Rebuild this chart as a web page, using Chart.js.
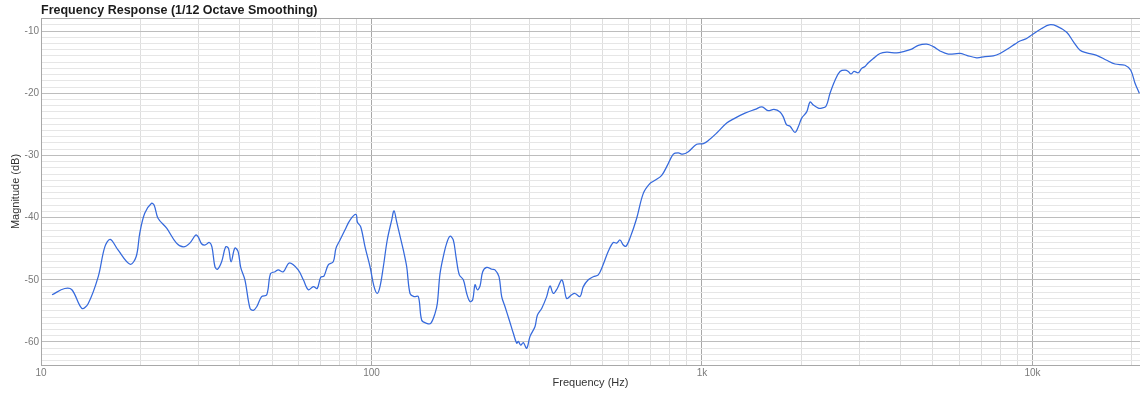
<!DOCTYPE html>
<html>
<head>
<meta charset="utf-8">
<script src="https://cdn.jsdelivr.net/npm/chart.js@4.4.1/dist/chart.umd.min.js"></script>
<style>
  html, body { margin: 0; padding: 0; background: #fff; overflow: hidden; }
  #wrap { width: 1140px; height: 396px; position: relative; }
</style>
</head>
<body>
<div id="wrap"><canvas id="c"></canvas></div>
<script>
// Measured response, 1/12 octave smoothing: frequency (Hz) and level (dB)
const frequencies = [
  10.8, 11.8, 12.4, 13.3, 13.9, 14.9, 15.6, 16.2, 17.1, 18.6,
  19.4, 19.9, 20.6, 21.6, 22.0, 22.6, 24.0, 25.7, 27.0, 28.2,
  29.4, 29.9, 30.6, 31.4, 32.3, 32.9, 33.6, 34.2, 35.2, 36.2,
  36.9, 37.6, 38.6, 39.5, 40.2, 41.4, 42.9, 43.9, 45.0, 46.5,
  48.2, 49.5, 51.1, 52.2, 54.1, 56.4, 60.0, 62.2, 64.4, 66.7,
  68.5, 70.2, 71.8, 74.0, 76.6, 78.1, 80.3, 83.1, 86.1, 89.8,
  90.6, 92.8, 95.6, 99.0, 101.8, 104.1, 106.1, 108.6, 111.6, 115.1,
  117.0, 119.2, 121.4, 124.8, 127.8, 130.8, 134.5, 138.6, 141.9, 146.9,
  151.1, 155.7, 158.2, 161.2, 165.8, 168.9, 172.8, 176.8, 180.2, 184.4,
  189.6, 194.1, 198.6, 202.4, 205.7, 209.0, 213.0, 217.0, 223.2, 231.1,
  236.4, 243.1, 247.7, 253.4, 261.2, 268.6, 275.0, 278.2, 282.8, 288.0,
  294.9, 301.8, 312.5, 317.6, 327.3, 338.9, 346.8, 354.9, 364.9, 376.3,
  382.4, 389.6, 403.4, 412.8, 427.5, 437.4, 452.9, 469.0, 485.6, 502.8,
  520.6, 539.0, 552.0, 564.8, 577.9, 588.9, 605.5, 634.5, 664.4, 696.2,
  720.9, 755.3, 782.1, 819.0, 847.9, 874.2, 909.1, 963.8, 1009, 1045,
  1108, 1188, 1259, 1349, 1447, 1519, 1584, 1651, 1722, 1762,
  1804, 1847, 1911, 1956, 2003, 2074, 2123, 2172, 2249, 2303,
  2373, 2440, 2527, 2616, 2709, 2772, 2824, 2884, 2972, 3043,
  3114, 3187, 3300, 3457, 3622, 3882, 4065, 4310, 4513, 4786,
  5011, 5250, 5561, 6035, 6322, 6778, 7184, 7610, 7975, 8450,
  8851, 9166, 9603, 9965, 10660, 11240, 11840, 12690, 13290, 13930,
  14590, 15640, 16770, 17770, 19050, 19830, 20430, 21050
];
const magnitudes = [
  -52.4, -51.4, -51.6, -54.6, -53.8, -49.5, -44.7, -43.5, -45.2, -47.5,
  -46.3, -42.5, -39.3, -37.7, -38.0, -40.1, -41.7, -44.1, -44.7, -44.1,
  -42.8, -43.1, -44.2, -44.4, -44.0, -44.7, -47.9, -48.3, -47.1, -44.7,
  -44.9, -47.1, -44.9, -45.5, -48.0, -50.0, -54.6, -54.9, -54.3, -52.7,
  -52.4, -49.0, -48.7, -48.4, -48.7, -47.3, -48.4, -50.0, -51.6, -51.1,
  -51.4, -49.6, -49.4, -47.6, -47.1, -44.9, -43.6, -42.0, -40.4, -39.5,
  -40.7, -41.5, -44.7, -47.9, -51.1, -52.2, -51.1, -47.9, -43.6, -40.4,
  -38.9, -40.7, -42.5, -45.2, -47.9, -52.2, -52.7, -52.7, -56.5, -57.0,
  -57.0, -55.4, -53.8, -49.0, -45.7, -44.1, -43.0, -43.6, -46.3, -49.2,
  -50.0, -52.2, -53.5, -53.2, -50.8, -51.6, -51.0, -48.7, -48.0, -48.3,
  -48.4, -49.5, -52.7, -54.3, -56.5, -58.6, -60.2, -59.9, -60.5, -60.1,
  -61.0, -59.1, -57.5, -55.7, -54.6, -52.7, -51.0, -52.2, -51.4, -50.0,
  -51.1, -53.0, -52.4, -52.2, -52.7, -51.1, -50.0, -49.5, -49.2, -47.5,
  -45.4, -44.0, -44.1, -43.6, -44.4, -44.6, -43.3, -40.1, -36.1, -34.5,
  -34.0, -33.2, -31.8, -29.8, -29.6, -29.8, -29.4, -28.2, -28.1, -27.6,
  -26.4, -24.8, -24.0, -23.2, -22.6, -22.2, -22.8, -22.6, -23.0, -23.8,
  -25.1, -25.3, -26.3, -25.4, -24.0, -23.0, -21.4, -21.9, -22.4, -22.4,
  -22.1, -20.0, -17.9, -16.5, -16.3, -16.5, -16.9, -16.5, -16.7, -16.0,
  -15.7, -15.1, -14.4, -13.6, -13.4, -13.5, -13.3, -12.9, -12.3, -12.1,
  -12.5, -13.2, -13.7, -13.6, -13.9, -14.3, -14.1, -14.0, -13.6, -12.8,
  -12.1, -11.6, -11.2, -10.6, -9.6, -9.0, -9.2, -10.2, -11.7, -13.1,
  -13.5, -13.9, -14.7, -15.3, -15.5, -16.3, -18.4, -20.0
];

// Axis settings
const freqRange = [10, 21150];
const dbRange = [-63.7, -7.9];
const decadeTicks = [10, 100, 1000, 10000];
const decadeLabels = ['10', '100', '1k', '10k'];
const gridMultipliers = [1, 2, 3, 4, 5, 6, 7, 8, 9];
const dbLabelStep = 10;

const FONT = "'Liberation Sans', Arial, Helvetica, sans-serif";

// Grid positions: every integer multiple inside each decade, every dB step
const freqGrid = [];
decadeTicks.forEach(d => gridMultipliers.forEach(m => {
  const v = d * m;
  if (v >= freqRange[0] && v <= freqRange[1]) freqGrid.push(v);
}));
const dbGrid = [];
for (let v = Math.ceil(dbRange[0]); v <= Math.floor(dbRange[1]); v++) dbGrid.push(v);
dbGrid.push(dbRange[1]);

const points = frequencies.map((f, i) => ({ x: f, y: magnitudes[i] }));

new Chart(document.getElementById('c'), {
  type: 'line',
  data: {
    datasets: [{
      data: points,
      borderColor: '#3569dc',
      borderWidth: 1.25,
      pointRadius: 0,
      tension: 0.35,
      fill: false
    }]
  },
  options: {
    responsive: true,
    maintainAspectRatio: false,
    animation: false,
    layout: { padding: 0 },
    plugins: {
      legend: { display: false },
      tooltip: { enabled: false },
      title: {
        display: true,
        text: 'Frequency Response (1/12 Octave Smoothing)',
        align: 'start',
        fullSize: false,
        color: '#1c1c1c',
        font: { family: FONT, size: 12.5, weight: 'bold', lineHeight: 14 / 12.5 },
        padding: { top: 4, bottom: 0 }
      }
    },
    scales: {
      x: {
        type: 'logarithmic',
        min: freqRange[0],
        max: freqRange[1],
        afterBuildTicks: s => { s.ticks = freqGrid.map(v => ({ value: v })); },
        afterFit: s => { s.height = 31; },
        ticks: {
          autoSkip: false,
          maxRotation: 0,
          padding: 2,
          color: '#7a7a7a',
          font: { family: FONT, size: 10 },
          callback: v => {
            const i = decadeTicks.indexOf(v);
            return i >= 0 ? decadeLabels[i] : '';
          }
        },
        grid: {
          drawTicks: false,
          lineWidth: 1,
          color: c => (c.tick && decadeTicks.includes(c.tick.value)) ? '#a8a8a8' : '#dedede'
        },
        border: { color: '#a8a8a8', width: 1 },
        title: {
          display: true,
          text: 'Frequency (Hz)',
          color: '#333',
          font: { family: FONT, size: 11, lineHeight: 1.2 },
          padding: { top: 0, bottom: 6 }
        }
      },
      y: {
        type: 'linear',
        min: dbRange[0],
        max: dbRange[1],
        afterBuildTicks: s => { s.ticks = dbGrid.map(v => ({ value: v })); },
        afterFit: s => { s.width = 41; },
        ticks: {
          autoSkip: false,
          padding: 2,
          color: '#7a7a7a',
          font: { family: FONT, size: 10 },
          callback: v => (Number.isInteger(v) && v % dbLabelStep === 0) ? String(v) : ''
        },
        grid: {
          drawTicks: false,
          lineWidth: 1,
          color: c => {
            if (!c.tick) return '#e6e6e6';
            const v = c.tick.value;
            if (v === dbRange[1]) return '#a8a8a8';
            return (Number.isInteger(v) && v % dbLabelStep === 0) ? '#bdbdbd' : '#e6e6e6';
          }
        },
        border: { color: '#a8a8a8', width: 1 },
        title: {
          display: true,
          text: 'Magnitude (dB)',
          color: '#333',
          font: { family: FONT, size: 11, lineHeight: 1.2 },
          padding: { top: 9, bottom: 0 }
        }
      }
    }
  }
});
</script>
</body>
</html>
